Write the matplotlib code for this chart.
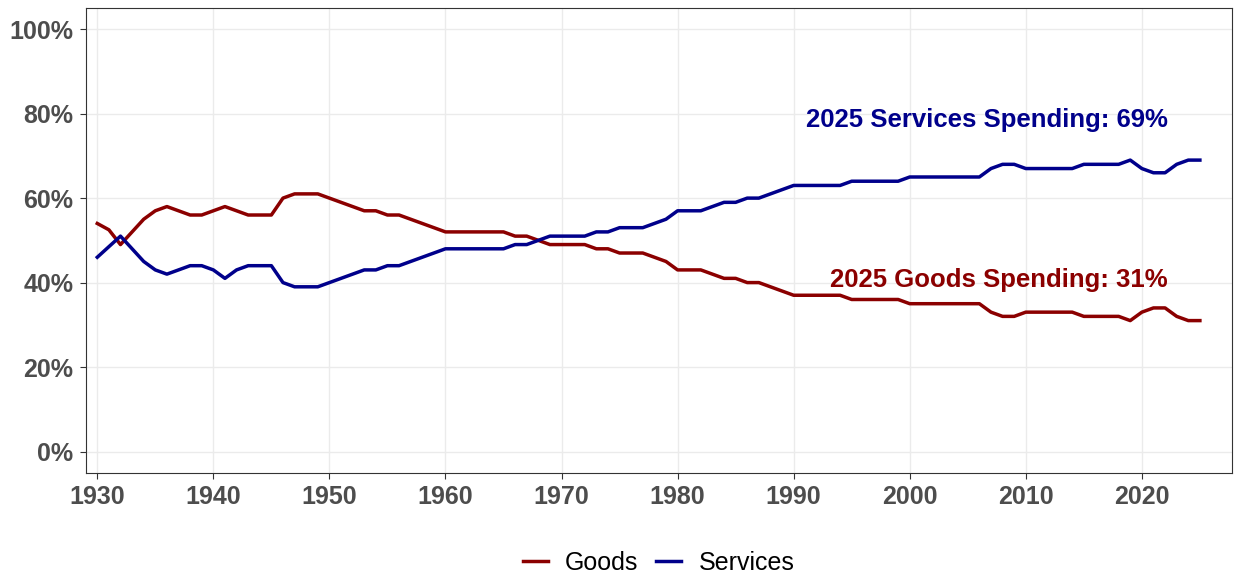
import matplotlib.pyplot as plt
from matplotlib.ticker import FuncFormatter

# share of personal consumption spending (%)
years = list(range(1930, 2026))
goods = [54, 52.5, 49, 52, 55, 57, 58, 57, 56, 56,
         57, 58, 57, 56, 56, 56, 60, 61, 61, 61,
         60, 59, 58, 57, 57, 56, 56, 55, 54, 53,
         52, 52, 52, 52, 52, 52, 51, 51, 50, 49,
         49, 49, 49, 48, 48, 47, 47, 47, 46, 45,
         43, 43, 43, 42, 41, 41, 40, 40, 39, 38,
         37, 37, 37, 37, 37, 36, 36, 36, 36, 36,
         35, 35, 35, 35, 35, 35, 35, 33, 32, 32,
         33, 33, 33, 33, 33, 32, 32, 32, 32, 31,
         33, 34, 34, 32, 31, 31]
services = [46, 48.5, 51, 48, 45, 43, 42, 43, 44, 44,
            43, 41, 43, 44, 44, 44, 40, 39, 39, 39,
            40, 41, 42, 43, 43, 44, 44, 45, 46, 47,
            48, 48, 48, 48, 48, 48, 49, 49, 50, 51,
            51, 51, 51, 52, 52, 53, 53, 53, 54, 55,
            57, 57, 57, 58, 59, 59, 60, 60, 61, 62,
            63, 63, 63, 63, 63, 64, 64, 64, 64, 64,
            65, 65, 65, 65, 65, 65, 65, 67, 68, 68,
            67, 67, 67, 67, 67, 68, 68, 68, 68, 69,
            67, 66, 66, 68, 69, 69]

goods_col = '#8B0000'
serv_col = '#00008B'
font = 'Liberation Sans'

fig = plt.figure(figsize=(12.38, 5.75), dpi=100)
ax = fig.add_axes([0.0692, 0.178, 0.9258, 0.808])

ax.plot(years, goods, color=goods_col, lw=2.5, label='Goods')
ax.plot(years, services, color=serv_col, lw=2.5, label='Services')

ax.text(2022.2, 78.6, '2025 Services Spending: 69%', color=serv_col,
        fontsize=18.5, fontweight='bold', family=font, ha='right', va='center')
ax.text(2022.2, 40.5, '2025 Goods Spending: 31%', color=goods_col,
        fontsize=18.5, fontweight='bold', family=font, ha='right', va='center')

ax.set_xlim(1929.0, 2027.75)
ax.set_ylim(-5, 105)
ax.set_xticks(range(1930, 2021, 10))
ax.set_yticks(range(0, 101, 20))
ax.yaxis.set_major_formatter(FuncFormatter(lambda v, p: f'{v:.0f}%'))
ax.grid(True, color='#EBEBEB', lw=1)
ax.set_axisbelow(True)
for s in ax.spines.values():
    s.set_color('#333333')
    s.set_linewidth(0.8)
ax.tick_params(length=4, width=0.8, color='#333333', labelcolor='#4D4D4D',
               labelsize=18)
ax.tick_params(axis='y', pad=5)
ax.tick_params(axis='x', pad=5)
for lab in ax.get_xticklabels() + ax.get_yticklabels():
    lab.set_fontweight('bold')
    lab.set_family(font)

fig.legend(loc='center', bbox_to_anchor=(0.532, 0.021), ncol=2,
           frameon=False, prop={'family': font, 'size': 18},
           handlelength=1.0, handletextpad=0.7, columnspacing=0.7,
           borderpad=0)

fig.savefig('out.png', dpi=100)
